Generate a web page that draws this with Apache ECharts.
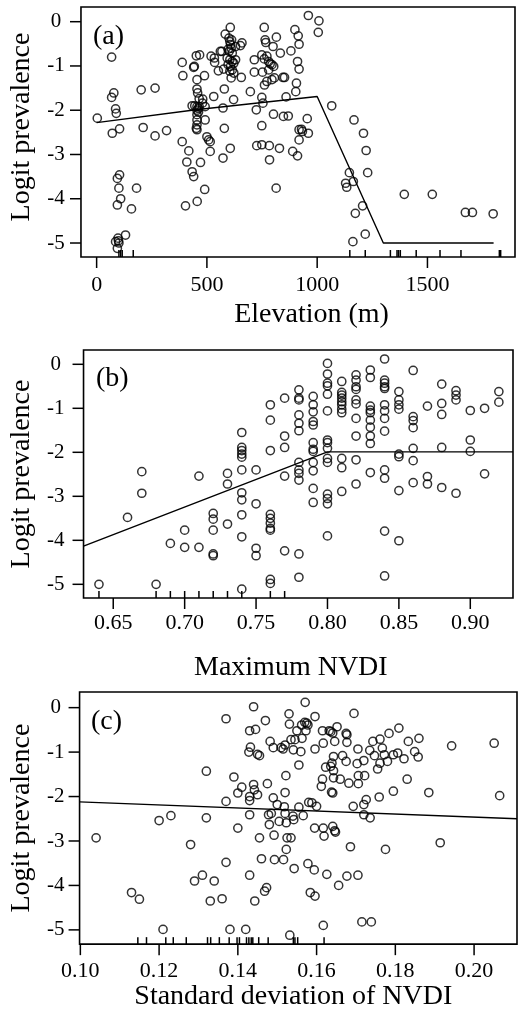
<!DOCTYPE html>
<html><head><meta charset="utf-8">
<script src="https://cdn.jsdelivr.net/npm/echarts@6/dist/echarts.min.js"></script>
<style>html,body{margin:0;padding:0;background:#fff}#c{width:522px;height:1012px}</style>
</head><body><div id="c"></div>
<script>
// Panel (a): elevation (m) vs logit prevalence
const elevPoints = [[3,-2.18],[68,-0.80],[78,-1.61],[68,-1.71],[86,-1.97],[89,-2.07],[71,-2.52],[104,-2.42],[104,-3.46],[94,-3.54],[101,-3.76],[109,-4.00],[94,-4.14],[158,-4.23],[181,-3.76],[131,-4.82],[97,-4.89],[86,-4.97],[101,-5.00],[94,-5.12],[99,-4.95],
[202,-1.54],[211,-2.39],[265,-1.50],[265,-2.58],[317,-2.46],
[388,-0.92],[391,-1.22],[388,-2.71],[418,-2.92],[409,-3.17],[433,-3.39],[440,-3.50],[403,-4.16],[456,-4.06],[471,-3.18],[490,-3.79],
[440,-1.03],[443,-1.01],[452,-0.77],[467,-0.75],[455,-1.31],[455,-1.52],[458,-1.61],[465,-1.74],[489,-1.22],[481,-1.75],
[433,-1.90],[445,-1.90],[455,-1.92],[462,-1.96],[455,-2.00],[455,-2.10],[455,-2.22],[455,-2.33],[455,-2.44],[452,-2.41],[462,-2.04],[465,-1.92],
[492,-1.92],[492,-2.22],[500,-2.60],[508,-2.67],[515,-2.71],[515,-2.93],[480,-1.84],
[519,-0.78],[534,-0.82],[535,-0.92],[531,-1.69],[552,-1.11],[561,-0.67],[568,-0.67],[576,-1.07],[573,-1.95],[579,-1.52],[579,-2.41],[573,-3.08],[583,-0.28],[606,-0.13],[606,-2.86],[621,-1.76],[656,-1.26],[659,-0.48],[652,-0.54],
[600,-0.37],[604,-0.45],[607,-0.52],[610,-0.60],[601,-0.67],[615,-0.71],[592,-0.82],[604,-0.86],[615,-0.90],[622,-0.94],[596,-0.97],[607,-1.01],[615,-1.09],[604,-1.12],[622,-1.16],[610,-1.27],[630,-0.56],[630,-0.86],[597,-0.62],[612,-0.41],
[697,-1.58],[715,-0.86],[715,-1.14],[724,-1.99],[760,-0.13],[764,-0.41],[767,-0.47],[749,-0.75],[760,-0.84],[752,-1.14],[772,-0.78],[780,-0.90],[787,-0.95],[795,-0.97],[803,-1.01],[780,-1.09],[772,-1.35],[761,-1.43],[749,-1.71],[754,-1.84],[795,-1.31],[806,-1.27],[815,-0.35],[800,-0.56],[833,-0.71],[845,-1.26],[852,-1.26],[859,-1.70],[847,-2.14],[869,-2.13],[749,-2.35],[749,-2.78],[783,-2.80],[784,-3.12],[802,-2.09],[829,-2.86],[814,-3.76],[881,-0.66],[889,-2.93],[899,-0.18],[911,-0.90],[914,-0.32],[918,-0.51],[918,-1.07],[906,-1.39],[903,-1.58],[911,-3.03],[918,-2.67],[918,-2.44],[929,-2.43],[933,-2.48],[960,-2.52],[955,-2.19],[960,0.14],[1008,0.02],[1005,-0.24],[726,-2.80],
[1066,-1.90],[1167,-2.22],[1210,-2.52],[1222,-2.91],[1229,-3.41],[1146,-3.41],[1129,-3.65],[1134,-3.74],[1164,-3.61],[1206,-4.16],[1173,-4.33],[1162,-4.97],[1218,-4.80],[1395,-3.90],[1522,-3.90],[1672,-4.31],[1704,-4.31],[1798,-4.34]];
const elevFit = [[0,-2.28],[450,-1.99],[1000,-1.69],[1300,-5.0],[1800,-5.0]];
const elevRug = [101,109,116,166,1148,1218,1332,1362,1369,1377,1449,1557,1652,1826,1832];
const elevTicks = [0,500,1000,1500];

// Panel (b): maximum NVDI vs logit prevalence
const maxNdviPoints = [[0.64,-5.0],[0.66,-3.48],[0.67,-2.44],[0.67,-2.93],[0.68,-5.0],[0.69,-4.07],
[0.70,-3.77],[0.70,-4.16],[0.71,-2.54],[0.71,-4.16],
[0.72,-3.39],[0.72,-3.52],[0.72,-3.77],[0.72,-4.31],[0.72,-4.35],
[0.73,-2.48],[0.73,-2.72],[0.73,-3.63],
[0.74,-1.55],[0.74,-1.89],[0.74,-1.96],[0.74,-2.04],[0.74,-2.11],[0.74,-2.40],[0.74,-2.92],[0.74,-3.08],[0.74,-3.42],[0.74,-3.92],[0.74,-5.11],
[0.75,-2.40],[0.75,-3.17],[0.75,-4.18],[0.75,-4.35],
[0.76,-0.92],[0.76,-1.27],[0.76,-1.96],[0.76,-3.41],[0.76,-3.50],[0.76,-3.61],[0.76,-3.73],[0.76,-3.77],[0.76,-4.89],[0.76,-4.98],
[0.77,-0.77],[0.77,-1.63],[0.77,-1.89],[0.77,-2.54],[0.77,-4.24],
[0.78,-0.58],[0.78,-0.77],[0.78,-0.81],[0.78,-1.15],[0.78,-1.34],[0.78,-1.51],[0.78,-2.23],[0.78,-2.40],[0.78,-2.48],[0.78,-2.63],[0.78,-4.31],[0.78,-4.84],
[0.79,-0.73],[0.79,-0.92],[0.79,-1.08],[0.79,-1.30],[0.79,-1.38],[0.79,-1.78],[0.79,-1.93],[0.79,-1.98],[0.79,-2.23],[0.79,-2.42],[0.79,-2.82],[0.79,-3.14],
[0.80,0.02],[0.80,-0.22],[0.80,-0.43],[0.80,-0.49],[0.80,-0.68],[0.80,-1.06],[0.80,-1.72],[0.80,-1.78],[0.80,-1.91],[0.80,-2.14],[0.80,-2.23],[0.80,-2.95],[0.80,-3.05],[0.80,-3.17],[0.80,-3.90],
[0.81,-0.39],[0.81,-0.64],[0.81,-0.70],[0.81,-0.77],[0.81,-0.85],[0.81,-0.92],[0.81,-1.02],[0.81,-1.10],[0.81,-2.14],[0.81,-2.35],[0.81,-2.89],
[0.82,-0.24],[0.82,-0.36],[0.82,-0.51],[0.82,-0.57],[0.82,-0.81],[0.82,-0.90],[0.82,-1.23],[0.82,-1.63],[0.82,-2.17],[0.82,-2.72],
[0.83,-0.13],[0.83,-0.30],[0.83,-0.95],[0.83,-1.04],[0.83,-1.10],[0.83,-1.27],[0.83,-1.43],[0.83,-1.63],[0.83,-1.80],[0.83,-2.46],
[0.84,0.12],[0.84,-0.36],[0.84,-0.43],[0.84,-0.51],[0.84,-0.55],[0.84,-0.92],[0.84,-1.06],[0.84,-1.23],[0.84,-1.52],[0.84,-2.40],[0.84,-2.59],[0.84,-3.79],[0.84,-4.81],
[0.85,-0.62],[0.85,-0.81],[0.85,-0.92],[0.85,-1.02],[0.85,-2.04],[0.85,-2.10],[0.85,-2.87],[0.85,-4.01],
[0.86,-0.14],[0.86,-1.19],[0.86,-1.28],[0.86,-1.44],[0.86,-1.91],[0.86,-2.19],[0.86,-2.69],
[0.87,-0.95],[0.87,-2.55],[0.87,-2.72],
[0.88,-0.45],[0.88,-0.89],[0.88,-1.14],[0.88,-1.89],[0.88,-2.80],
[0.89,-0.60],[0.89,-0.70],[0.89,-0.81],[0.89,-2.93],
[0.90,-1.05],[0.90,-1.72],[0.90,-1.98],[0.91,-1.00],[0.91,-2.49],[0.92,-0.62],[0.92,-0.86]];
const maxNdviFit = [[0.6292,-4.13],[0.80,-1.99],[0.9299,-1.99]];
const maxNdviRug = [0.64,0.68,0.69,0.70,0.71,0.72,0.73,0.74,0.76,0.77];
const maxNdviTicks = [0.65,0.70,0.75,0.80,0.85,0.90];

// Panel (c): standard deviation of NVDI vs logit prevalence
const sdNdviPoints = [[0.104,-2.93],[0.113,-4.16],[0.115,-4.31],[0.120,-2.54],[0.123,-2.43],[0.121,-4.99],[0.128,-3.08],[0.129,-3.90],[0.131,-3.77],[0.132,-2.48],[0.132,-1.43],[0.133,-4.35],[0.134,-3.90],[0.136,-4.30],[0.137,-0.25],[0.137,-3.48],[0.137,-2.11],[0.138,-4.99],[0.139,-1.56],[0.140,-1.92],[0.140,-2.71],[0.141,-1.79],[0.142,-4.99],
[0.143,-2.00],[0.143,-2.09],[0.143,-2.41],[0.143,-3.77],[0.143,-0.52],[0.144,0.02],[0.1445,-0.49],[0.1432,-0.89],[0.1428,-1.00],[0.145,-1.05],[0.1455,-1.08],[0.144,-1.73],[0.1442,-1.85],[0.145,-1.96],[0.1455,-2.93],[0.146,-3.40],[0.1468,-4.13],[0.1473,-4.05],[0.1443,-4.35],
[0.147,-0.29],[0.1475,-1.71],[0.1478,-2.41],[0.148,-2.63],[0.1482,-0.76],[0.149,-0.90],[0.1485,-2.38],[0.149,-2.03],[0.1492,-2.87],[0.1493,-3.42],[0.150,-2.18],[0.1505,-2.56],
[0.151,-0.90],[0.152,-0.84],[0.1515,-0.93],[0.152,-1.91],[0.1522,-1.53],[0.1518,-2.23],[0.152,-2.38],[0.1523,-2.59],[0.1516,-3.42],[0.1523,-3.19],[0.1525,-2.93],[0.1535,-2.93],[0.153,-0.14],[0.1531,-0.37],[0.1532,-5.12],[0.1535,-0.72],[0.154,-2.44],[0.1542,-2.52],[0.1543,-3.62],[0.1541,-0.95],[0.1545,-0.72],[0.155,-0.52],[0.1555,-1.29],[0.1555,-2.24],[0.156,-0.99],[0.1562,-0.39],[0.1563,-0.69],[0.1566,-2.43],[0.157,-0.33],[0.1571,0.12],[0.1573,-0.52],[0.1575,-0.35],[0.1578,-0.39],
[0.1578,-3.51],[0.158,-2.13],[0.1584,-4.16],[0.1588,-2.14],[0.1594,-3.65],[0.1596,-4.24],[0.1595,-2.71],[0.1596,-0.93],[0.1596,-0.20],[0.160,-2.22],
[0.1615,-0.52],[0.1612,-1.77],[0.1615,-1.61],[0.1617,-0.80],[0.1617,-2.71],[0.1619,-2.89],[0.1617,-4.90],[0.1623,-1.34],[0.1626,-3.75],[0.1632,-0.52],[0.1636,-1.32],[0.1639,-1.25],[0.1636,-0.54],[0.1641,-0.57],[0.1638,-1.90],[0.1641,-1.92],[0.1641,-2.67],[0.1643,-1.42],[0.1643,-1.10],[0.1643,-1.58],[0.1646,-2.77],[0.1648,-2.80],[0.1646,-0.76],[0.1652,-0.43],[0.1656,-4.00],[0.166,-1.61],[0.1666,-1.08],[0.1675,-0.58],[0.1677,-0.61],[0.1675,-1.21],[0.1677,-0.78],[0.1677,-3.79],[0.1682,-1.70],[0.1686,-3.13],[0.1693,-2.22],[0.1695,-0.13],[0.1705,-0.93],[0.1703,-1.26],[0.1706,-1.53],[0.1706,-1.71],[0.1705,-3.77],[0.1715,-4.82],
[0.172,-1.19],[0.1722,-1.53],[0.172,-2.18],[0.1726,-2.07],[0.172,-2.41],[0.1736,-2.48],[0.1739,-4.82],[0.1735,-0.96],[0.1743,-0.76],[0.1747,-1.08],[0.1755,-1.38],[0.1761,-0.71],[0.1761,-1.25],[0.1759,-2.01],[0.1767,-0.91],[0.1772,-1.06],[0.178,-1.21],[0.1775,-3.19],[0.1784,-0.58],[0.1795,-1.88],[0.1795,-1.06],[0.1806,-1.02],[0.1809,-0.46],[0.1822,-1.15],[0.183,-1.61],[0.1833,-0.76],[0.1849,-0.99],[0.1858,-1.11],[0.186,-0.69],[0.1885,-1.91],[0.1914,-3.04],[0.1943,-0.86],[0.2051,-0.80],[0.2065,-1.98]];
const sdNdviFit = [[0.0998,-2.12],[0.2109,-2.50]];
const sdNdviRug = [0.1146,0.1168,0.1217,0.1236,0.1269,0.1323,0.1331,0.1353,0.1378,0.1398,0.1404,0.1422,0.1428,0.1434,0.1438,0.1453,0.1477,0.1541,0.1545,0.1552,0.1619];
const sdNdviTicks = [0.10,0.12,0.14,0.16,0.18,0.20];

const yTicks = [0,-1,-2,-3,-4,-5];
const panelLabels = ['(a)','(b)','(c)'];
const xTitles = ['Elevation (m)','Maximum NVDI','Standard deviation of NVDI'];
const yTitle = 'Logit prevalence';
</script>
<script>
const FONT = "'Liberation Serif','Times New Roman',serif";
const chart = echarts.init(document.getElementById('c'), null, {renderer: 'canvas'});

const boxes = [
  {left: 80, top: 7, width: 435, height: 250},
  {left: 80, top: 350, width: 433, height: 248},
  {left: 77, top: 692, width: 440, height: 253}
];
const xr = [[-71, 1897], [0.6292, 0.9299], [0.0998, 0.2109]];
const yr = [[-5.316, 0.332], [-5.311, 0.325], [-5.321, 0.352]];
const PAD = 14;
const TL = 11;
const grids = boxes.map(b => ({left: b.left - PAD, top: b.top, width: b.width + PAD, height: b.height + PAD}));
const xMinExt = xr.map((r, i) => r[0] - PAD * (r[1] - r[0]) / boxes[i].width);
const yMinExt = yr.map((r, i) => r[0] - PAD * (r[1] - r[0]) / boxes[i].height);

const xt = [elevTicks, maxNdviTicks, sdNdviTicks];
const xfmt = [v => String(v), v => v.toFixed(2), v => v.toFixed(2)];
const labelMargin = [17 - PAD, 14 - PAD, 16 - PAD];
const nameGapX = [44 - PAD, 56 - PAD, 37 - PAD];
const namePadX = [[0,0,0,41],[0,1,0,0],[0,0,0,4]];
const yMargin = [25 - PAD, 28 - PAD, 24 - PAD];
const nameGapY = [45 - PAD, 46 - PAD, 41 - PAD];
const namePadY = [[0,0,0,24],[0,0,0,14],[0,0,0,14]];
const pts = [elevPoints, maxNdviPoints, sdNdviPoints];
const fits = [elevFit, maxNdviFit, sdNdviFit];
const rugs = [elevRug, maxNdviRug, sdNdviRug];

// one frame item per panel: box, outward ticks on both axes and the rug, all placed with api.coord
function frameRenderer(i) {
  return function (params, api) {
    const seg = (a, b) => ({type: 'line', shape: {x1: a[0], y1: a[1], x2: b[0], y2: b[1]},
                             style: {stroke: '#000', lineWidth: 1.5}});
    const p0 = api.coord([xr[i][0], yr[i][1]]);
    const p1 = api.coord([xr[i][1], yr[i][0]]);
    const children = [{type: 'rect', shape: {x: p0[0], y: p0[1], width: p1[0] - p0[0], height: p1[1] - p0[1]},
                       style: {fill: 'none', stroke: '#000', lineWidth: 1.6}}];
    xt[i].forEach(v => { const p = api.coord([v, yr[i][0]]); children.push(seg(p, [p[0], p[1] + TL])); });
    yTicks.forEach(v => { const p = api.coord([xr[i][0], v]); children.push(seg(p, [p[0] - TL, p[1]])); });
    rugs[i].forEach(v => { const p = api.coord([v, yr[i][0]]); children.push(seg(p, [p[0], p[1] - 7])); });
    return {type: 'group', children: children};
  };
}

const option = {
  animation: false,
  backgroundColor: '#fff',
  grid: grids.map(g => Object.assign({show: false}, g)),
  title: panelLabels.map((t, i) => ({
    text: t, left: [93, 96, 91][i], top: [23, 365, 708][i], padding: 0,
    textStyle: {fontFamily: FONT, fontSize: 28, fontWeight: 'normal', color: '#000'}
  })),
  xAxis: [0,1,2].map(i => ({
    type: 'value', gridIndex: i, min: xMinExt[i], max: xr[i][1], position: 'bottom',
    splitLine: {show: false},
    axisLine: {show: false, onZero: false},
    axisTick: {show: false},
    axisLabel: {show: true, customValues: xt[i], formatter: xfmt[i], margin: labelMargin[i], color: '#000', fontFamily: FONT, fontSize: 22},
    name: xTitles[i], nameLocation: 'middle', nameGap: nameGapX[i],
    nameTextStyle: {fontFamily: FONT, fontSize: 28, color: '#000', padding: namePadX[i]}
  })),
  yAxis: [0,1,2].map(i => ({
    type: 'value', gridIndex: i, min: yMinExt[i], max: yr[i][1], position: 'left',
    splitLine: {show: false},
    axisLine: {show: false, onZero: false},
    axisTick: {show: false},
    axisLabel: {show: true, customValues: yTicks, formatter: v => String(v), margin: yMargin[i], align: 'center', color: '#000', fontFamily: FONT, fontSize: 21},
    name: yTitle, nameLocation: 'middle', nameGap: nameGapY[i], nameRotate: 90,
    nameTextStyle: {fontFamily: FONT, fontSize: 28, color: '#000', padding: namePadY[i]}
  })),
  series: [].concat(
    [0,1,2].map(i => ({
      type: 'custom', xAxisIndex: i, yAxisIndex: i, silent: true, clip: false, z: 5,
      data: [[xr[i][0], yr[i][0]]],
      renderItem: frameRenderer(i)
    })),
    [0,1,2].map(i => ({
      type: 'scatter', xAxisIndex: i, yAxisIndex: i, data: pts[i],
      symbol: 'circle', symbolSize: 8.2,
      itemStyle: {color: 'rgba(0,0,0,0)', borderColor: '#000', borderWidth: 1.5},
      emphasis: {disabled: true}, silent: true
    })),
    [0,1,2].map(i => ({
      type: 'line', xAxisIndex: i, yAxisIndex: i, data: fits[i],
      symbol: 'none', clip: false, lineStyle: {color: '#000', width: 1.4}, silent: true
    }))
  )
};
chart.setOption(option);
</script>
</body></html>
